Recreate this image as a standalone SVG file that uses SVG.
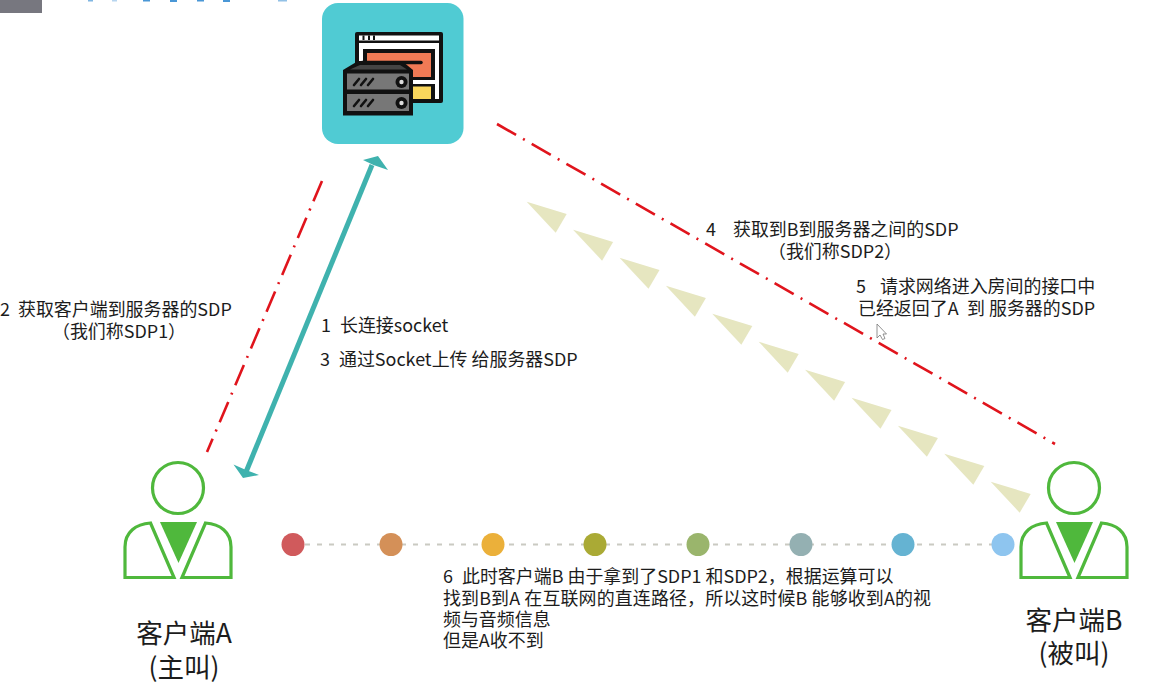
<svg xmlns="http://www.w3.org/2000/svg" width="1174" height="684" viewBox="0 0 1174 684">
<style>
text{font-family:"Noto Sans CJK SC","Noto Sans",sans-serif;font-size:17.95px;fill:#1c1c1c}
.big{font-size:26.5px;text-anchor:middle}
.red{fill:none;stroke:#e0141c;stroke-width:2.6;stroke-dasharray:22 8 2 8}
.teal{fill:#3fb2ae}
.pen{fill:#e6e6c0}
.ol{fill:none;stroke:#4fb83c;stroke-width:3.2}
.dot{fill:none;stroke:#cacac2;stroke-width:2;stroke-dasharray:5 7}
</style>
<defs>
<g id="person">
<circle class="ol" cx="178" cy="488" r="25.5"/>
<path class="ol" d="M125 577.500V547C125 532 136 524 150.500 523L174 577.500Z"/>
<path class="ol" d="M231 577.500V547C231 532 220 524 205.500 523L182 577.500Z"/>
<path d="M160 522H197L178.500 563Z" fill="#4fb83c"/>
</g>
<polygon id="p" class="pen" points="526.700,201.700 566.700,214 555.700,232.700"/>
</defs>
<rect x="0" y="0" width="42" height="13" fill="#77777f"/>
<g fill="#4a97d6">
<rect x="88" y="0" width="5" height="1.500" opacity=".7"/><rect x="112" y="0" width="5" height="1.500" opacity=".4"/><rect x="143" y="0" width="7" height="1.500"/><rect x="170" y="0" width="7" height="2"/><rect x="197" y="0" width="7" height="1.500"/><rect x="223" y="0" width="7" height="2"/><rect x="278" y="0" width="9" height="1.500" opacity=".6"/>
</g>
<g id="server">
<rect x="322" y="3" width="141.500" height="141" rx="16" fill="#50cbd3"/>
<rect x="355" y="32" width="88" height="71" rx="2" fill="#111"/>
<rect x="359" y="35.500" width="80" height="5" fill="#fff"/>
<rect x="359" y="43" width="80" height="56" fill="#fff"/>
<g fill="#111"><rect x="362.500" y="35.500" width="2" height="4.500"/><rect x="368" y="35.500" width="2" height="4.500"/><rect x="373" y="35.500" width="2" height="4.500"/></g>
<rect x="363" y="49" width="72" height="31" fill="#111"/>
<rect x="367" y="53" width="64" height="24" fill="#f07a55"/>
<rect x="409" y="84" width="26" height="19" fill="#111"/>
<rect x="413" y="86.500" width="18" height="12.500" fill="#f9d65c"/>
<rect x="435" y="80" width="4" height="19" fill="#fff"/>
<path d="M362 62.500H421" stroke="#111" stroke-width="3.500" stroke-linecap="round"/>
<path d="M343 70L358 61H402L413 70V115.500H343Z" fill="#111"/>
<path d="M350 69.500L360 65H400L407 69.500Z" fill="#444"/>
<rect x="347" y="73.500" width="62" height="16" fill="#777"/>
<rect x="347" y="94" width="62" height="17" fill="#777"/>
<g fill="#111"><circle cx="401.500" cy="82" r="6"/><circle cx="401.500" cy="103" r="6"/></g>
<g fill="#ddd"><circle cx="401.500" cy="82" r="2.200"/><circle cx="401.500" cy="103" r="2.200"/></g>
<path d="M354 85L359 79M361 85L366 79M368 85L373 79M354 106L359 100M361 106L366 100M368 106L373 100" stroke="#111" stroke-width="2.600" stroke-linecap="round" fill="none"/>
</g>
<g id="connectors">
<path class="red" d="M322 181L207 452"/>
<path class="red" d="M497 124L1055 444"/>
<path d="M372 165L246 472" stroke="#3fb2ae" stroke-width="5" fill="none"/>
<polygon class="teal" points="363,160 378,156 388,170 373.500,165"/>
<polygon class="teal" points="233.500,464.500 243,478 259,475 246,470"/>
<g id="pennants">
<use href="#p"/><use href="#p" x="46.400" y="28"/><use href="#p" x="92.800" y="56"/><use href="#p" x="139.200" y="84"/><use href="#p" x="185.600" y="112"/><use href="#p" x="232" y="140"/><use href="#p" x="278.400" y="168"/><use href="#p" x="324.800" y="196"/><use href="#p" x="371.200" y="224"/><use href="#p" x="417.600" y="252"/><use href="#p" x="464" y="280"/>
</g>
<path class="dot" d="M293 544.500H1003"/>
</g>
<g id="path-dots">
<circle cx="293" cy="544.500" r="11.500" fill="#d05a5c"/>
<circle cx="391" cy="544.500" r="11.500" fill="#d49058"/>
<circle cx="493" cy="544.500" r="11.500" fill="#ebb03a"/>
<circle cx="595" cy="544.500" r="11.500" fill="#aaaa35"/>
<circle cx="698" cy="544.500" r="11.500" fill="#9ab56c"/>
<circle cx="801" cy="544.500" r="11.500" fill="#94b0b2"/>
<circle cx="903" cy="544.500" r="11.500" fill="#65b3d2"/>
<circle cx="1003" cy="544.500" r="11.500" fill="#8ec5ef"/>
</g>
<g id="client-a"><use href="#person"/>
<text class="big" x="184" y="643">客户端A</text>
<text class="big" x="184" y="677">(主叫)</text></g>
<g id="client-b"><use href="#person" x="896"/>
<text class="big" x="1074" y="630">客户端B</text>
<text class="big" x="1074" y="663">(被叫)</text></g>
<g id="labels">
<text x="0" y="316">2<tspan x="18">获取客户端到服务器的SDP</tspan></text>
<text x="52" y="338">（我们称SDP1）</text>
<text x="321" y="332">1<tspan x="340">长连接socket</tspan></text>
<text x="320" y="366">3<tspan x="339">通过Socket上传 给服务器SDP</tspan></text>
<text x="706" y="236">4<tspan x="733">获取到B到服务器之间的SDP</tspan></text>
<text x="768" y="258">（我们称SDP2）</text>
<text x="856" y="293">5<tspan x="880">请求网络进入房间的接口中</tspan></text>
<text x="858" y="315">已经返回了A<tspan x="967">到 服务器的SDP</tspan></text>
<text x="443" y="583">6<tspan x="462">此时客户端B 由于拿到了SDP1 和SDP2，根据运算可以</tspan></text>
<text x="443" y="604.500" letter-spacing=".14">找到B到A 在互联网的直连路径，所以这时候B 能够收到A的视</text>
<text x="443" y="626">频与音频信息</text>
<text x="443" y="647">但是A收不到</text>
</g>
<path id="cursor" d="M877 324L886.500 334H883L885 338.500L882.500 339.500L880 335L877 338Z" fill="#fff" stroke="#777" stroke-width=".8"/>
</svg>
